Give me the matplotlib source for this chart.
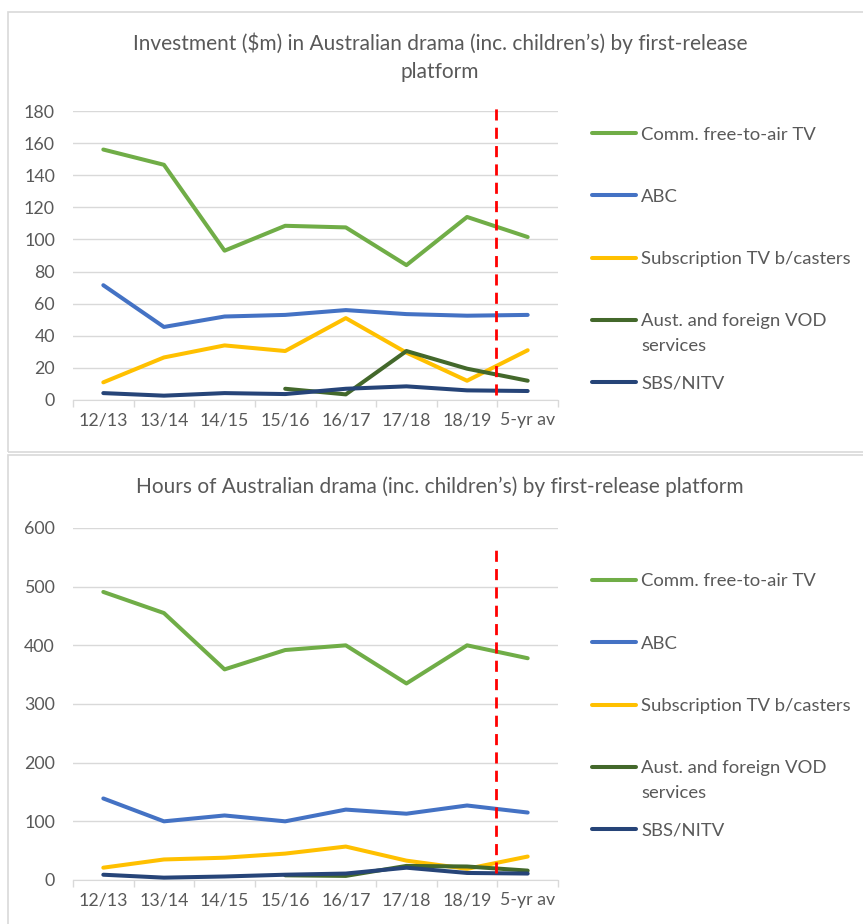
import numpy as np
import matplotlib
matplotlib.use("Agg")
import matplotlib.pyplot as plt
from matplotlib.patches import Rectangle
from matplotlib.lines import Line2D

plt.rcParams['font.family'] = ['Lato', 'DejaVu Sans']

# data
years = ['12/13', '13/14', '14/15', '15/16', '16/17', '17/18', '18/19', '5-yr av']
labels = ['Comm. free-to-air TV', 'ABC', 'Subscription TV b/casters',
          'Aust. and foreign VOD\nservices', 'SBS/NITV']
colors = ['#70AD47', '#4472C4', '#FFC000', '#43682B', '#264478']

inv_fta = [156, 146.5, 93, 108.5, 107.5, 84, 114, 101.5]
inv_abc = [71.5, 45.5, 52, 53, 56, 53.5, 52.5, 53]
inv_sub = [11, 26.5, 34, 30.5, 51, 29.5, 12, 31]
inv_vod = [np.nan, np.nan, np.nan, 7, 3.5, 30.5, 19.5, 12]
inv_sbs = [4.3, 2.7, 4.3, 3.7, 7, 8.5, 6, 5.6]

hrs_fta = [491, 455, 359, 392, 400, 335, 400, 378]
hrs_abc = [139, 100, 110, 100, 120, 113, 127, 115]
hrs_sub = [21, 35, 38, 45, 57, 33, 19, 40]
hrs_vod = [np.nan, np.nan, np.nan, 8, 7, 24, 23, 16]
hrs_sbs = [9, 4, 6, 9, 11, 21, 12, 11]

W, H = 863, 924
fig = plt.figure(figsize=(W / 100, H / 100), dpi=100)

def fx(px):
    return px / W

def fy(py):
    return 1 - py / H

grey = '#595959'
grid = '#D9D9D9'

# panel borders
fig.add_artist(Rectangle((fx(8), fy(452)), fx(900), fy(12) - fy(452),
                         transform=fig.transFigure, fill=False, ec=grid, lw=1.2))
fig.add_artist(Rectangle((fx(8), fy(960)), fx(900), fy(455) - fy(960),
                         transform=fig.transFigure, fill=False, ec=grid, lw=1.2))


def panel(rect, series, ymax, ystep, title, title_y, vline, leg_y):
    ax = fig.add_axes(rect)
    x = np.arange(len(years))
    for vals, c in zip(series, colors):
        ax.plot(x, vals, color=c, lw=2.9, solid_capstyle='round',
                solid_joinstyle='round', zorder=3)
    ax.plot([6.47, 6.47], vline, color='#FF0000', lw=2, dashes=(4, 2.6),
            clip_on=False, zorder=4)
    ax.set_xlim(-0.5, len(years) - 0.5)
    ax.set_ylim(0, ymax)
    ax.set_yticks(np.arange(0, ymax + 1, ystep))
    ax.set_xticks(x)
    ax.set_xticklabels(years)
    ax.set_xticks(np.arange(-0.5, len(years)), minor=True)
    ax.tick_params(axis='x', which='major', length=0, pad=9, labelsize=12.8, labelcolor=grey)
    ax.tick_params(axis='x', which='minor', length=5, color=grid, width=1)
    ax.tick_params(axis='y', length=0, pad=13, labelsize=12.8, labelcolor=grey)
    ax.grid(axis='y', color=grid, lw=1, zorder=0)
    for s in ['top', 'right', 'left']:
        ax.spines[s].set_visible(False)
    ax.spines['bottom'].set_color(grid)
    ax.set_axisbelow(True)
    fig.text(fx(440), fy(title_y), title, ha='center', va='top', fontsize=15,
             color=grey, linespacing=1.5)
    # legend, handles evenly spaced like the original, wrapped lines below
    for i, (lab, c) in enumerate(zip(labels, colors)):
        y = leg_y + i * 62.3
        fig.add_artist(Line2D([fx(592), fx(636)], [fy(y), fy(y)], color=c, lw=2.9,
                              solid_capstyle='round', transform=fig.transFigure))
        for j, line in enumerate(lab.split('\n')):
            fig.text(fx(641), fy(y + j * 25), line, ha='left', va='center_baseline',
                     fontsize=13.3, color=grey)
    return ax


panel([fx(73), fy(400), fx(485), fy(111) - fy(400)],
      [inv_fta, inv_abc, inv_sub, inv_vod, inv_sbs], 180, 20,
      'Investment ($m) in Australian drama (inc. children\u2019s) by first-release\nplatform',
      33, [3, 183], 133)

panel([fx(73), fy(880), fx(485), fy(528) - fy(880)],
      [hrs_fta, hrs_abc, hrs_sub, hrs_vod, hrs_sbs], 600, 100,
      'Hours of Australian drama (inc. children\u2019s) by first-release platform',
      476, [12, 567], 580)

plt.savefig('out.png', dpi=100)
